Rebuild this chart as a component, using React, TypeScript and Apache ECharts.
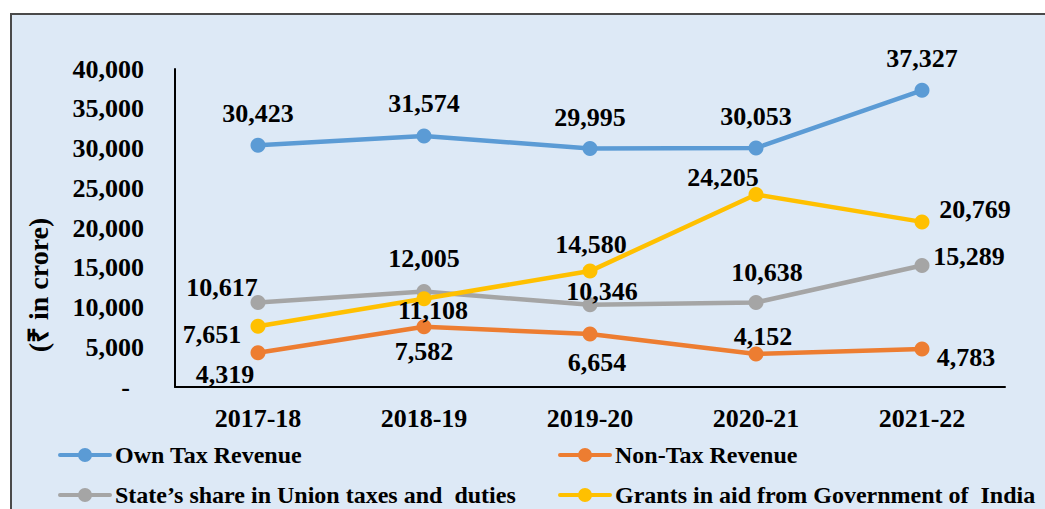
import React, { useEffect, useRef } from "react";
import * as echarts from "echarts";

const categories = ["2017-18", "2018-19", "2019-20", "2020-21", "2021-22"];
const ownTax = [30423, 31574, 29995, 30053, 37327];
const nonTax = [4319, 7582, 6654, 4152, 4783];
const stateShare = [10617, 12005, 10346, 10638, 15289];
const grants = [7651, 11108, 14580, 24205, 20769];
const seriesNames = [
  "Own Tax Revenue",
  "Non-Tax Revenue",
  "State\u2019s share in Union taxes and  duties",
  "Grants in aid from Government of  India",
];
const yTicks = [0, 5000, 10000, 15000, 20000, 25000, 30000, 35000, 40000];

const colors = ["#5b9bd5", "#ed7d31", "#a5a5a5", "#ffc000"];
const labelOffsets: number[][][] = [
  [[0, -32], [0, -32], [0, -31], [0, -32], [0, -32]],
  [[-33, 22], [0, 25], [7, 28], [7, -17], [44, 9]],
  [[-36, -15], [0, -33], [12, -13], [11, -30], [47, -9]],
  [[-46, 8], [9, 12], [1, -27], [-33, -17], [53, -12]],
];

const FONT = "'Liberation Serif', 'Times New Roman', serif";
const LEGEND_ICON =
  "path://M2,5L21,5L21,9L2,9A2,2 0 0,1 2,5Z M33,5L52,5A2,2 0 0,1 52,9L33,9Z M20,7A7,7 0 1,1 34,7A7,7 0 1,1 20,7Z M0,0L0,0 M54,14L54,14";

export default function App() {
  const ref = useRef<HTMLDivElement>(null);
  useEffect(() => {
    if (!ref.current) return;
    const chart = echarts.init(ref.current, null, { renderer: "svg" });
    const all = [ownTax, nonTax, stateShare, grants];
    const fmt = (v: number) => v.toLocaleString("en-US");
    chart.setOption({
      animation: false,
      backgroundColor: "transparent",
      textStyle: { fontFamily: FONT },
      grid: { left: 175, right: 40, top: 69, bottom: 122 },
      xAxis: {
        type: "category",
        data: categories,
        boundaryGap: true,
        axisLine: { lineStyle: { color: "#000", width: 2 } },
        axisTick: { show: false },
        axisLabel: { color: "#000", fontSize: 26, fontWeight: "bold", fontFamily: FONT, margin: 18 },
      },
      yAxis: {
        type: "value",
        min: 0,
        max: yTicks[yTicks.length - 1],
        interval: 5000,
        splitLine: { show: false },
        axisLine: { show: true, lineStyle: { color: "#000", width: 2 } },
        axisTick: { show: false },
        axisLabel: {
          color: "#000",
          fontSize: 26,
          fontWeight: "bold",
          fontFamily: FONT,
          margin: 31,
          formatter: (v: number) => (v === 0 ? "{d|-}" : fmt(v)),
          rich: { d: { fontSize: 26, fontWeight: "bold", fontFamily: FONT, color: "#000", padding: [0, 14, 0, 0] } },
        },
      },
      legend: seriesNames.map((n, i) => ({
        data: [{ name: n, icon: LEGEND_ICON, itemStyle: { color: colors[i] } }],
        left: i % 2 === 0 ? 58 : 558,
        top: i < 2 ? 443 : 483,
        padding: 0,
        itemWidth: 54,
        itemHeight: 14,
        itemGap: 4,
        textStyle: { color: "#000", fontSize: 24, fontWeight: "bold", fontFamily: FONT, padding: [0, 0, 0, -2] },
      })),
      graphic: [
        {
          type: "text",
          x: 38,
          y: 285,
          rotation: Math.PI / 2,
          style: {
            text: "(\u20B9 in crore)",
            fill: "#000",
            font: `bold 28px ${FONT}`,
            textAlign: "center",
            textVerticalAlign: "middle",
          },
        },
      ],
      series: all.map((arr, si) => ({
        name: seriesNames[si],
        type: "line",
        symbol: "circle",
        symbolSize: 15,
        color: colors[si],
        lineStyle: { width: 4.5, color: colors[si] },
        itemStyle: { color: colors[si] },
        data: arr.map((v, pi) => ({
          value: v,
          label: {
            show: true,
            position: "inside",
            offset: labelOffsets[si][pi],
            formatter: fmt(v),
            color: "#000",
            fontSize: 26,
            fontWeight: "bold",
            fontFamily: FONT,
          },
        })),
      })),
    });
    return () => chart.dispose();
  }, []);
  return (
    <div style={{ position: "fixed", left: 0, top: 0, width: 1045, height: 509, background: "#fff", overflow: "hidden" }}>
      <div
        style={{
          position: "absolute",
          left: 10,
          top: 13,
          width: 1060,
          height: 520,
          background: "#dde9f6",
          border: "2px solid #4a4a4a",
          boxSizing: "border-box",
        }}
      />
      <div ref={ref} style={{ position: "absolute", left: 0, top: 0, width: 1045, height: 509 }} />
    </div>
  );
}
